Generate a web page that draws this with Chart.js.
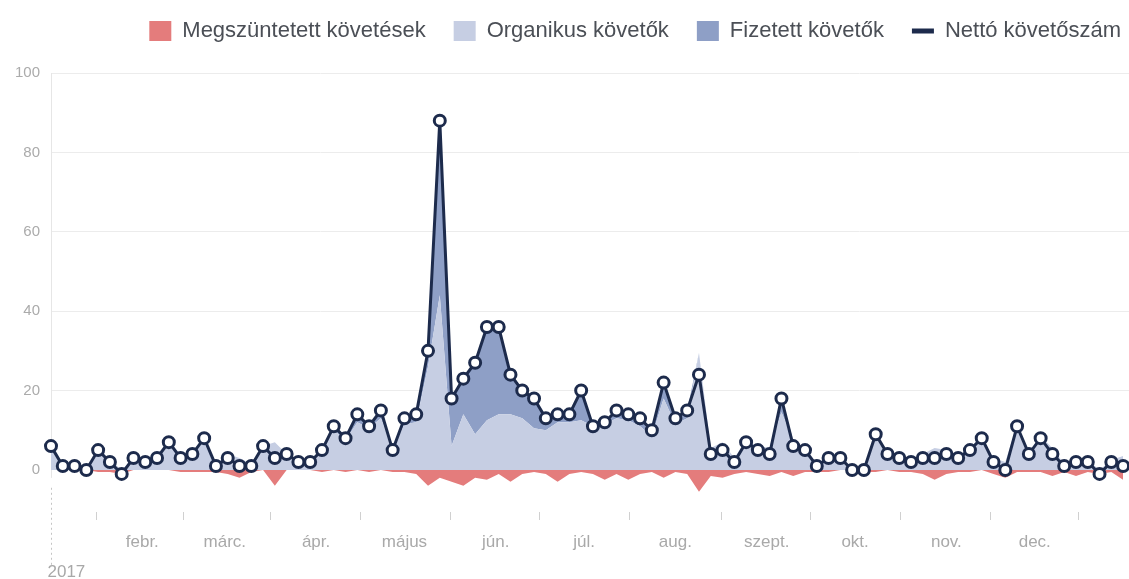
<!DOCTYPE html>
<html>
<head>
<meta charset="utf-8">
<title>Nettó követőszám</title>
<script src="https://cdn.jsdelivr.net/npm/chart.js@4"></script>
<style>
  html, body { margin: 0; padding: 0; background: #fff; }
  #wrap { width: 1129px; height: 579px; }
</style>
</head>
<body>
<div id="wrap"><canvas id="followersChart"></canvas></div>
<script>
// day of year (2017) of every data point
const days = [0, 4, 8, 12, 16, 20, 24, 28, 32, 36, 40, 44, 48, 52, 56, 60, 64, 68, 72, 76,
    80, 84, 88, 92, 96, 100, 104, 108, 112, 116, 120, 124, 128, 132, 136, 140, 144, 148, 152, 156,
    160, 164, 168, 172, 176, 180, 184, 188, 192, 196, 200, 204, 208, 212, 216, 220, 224, 228, 232, 236,
    240, 244, 248, 252, 256, 260, 264, 268, 272, 276, 280, 284, 288, 292, 296, 300, 304, 308, 312, 316,
    320, 324, 328, 332, 336, 340, 344, 348, 352, 356, 360, 364];

const netFollowers = [6, 1, 1, 0, 5, 2, -1, 3, 2, 3,
    7, 3, 4, 8, 1, 3, 1, 1, 6, 3,
    4, 2, 2, 5, 11, 8, 14, 11, 15, 5,
    13, 14, 30, 88, 18, 23, 27, 36, 36, 24,
    20, 18, 13, 14, 14, 20, 11, 12, 15, 14,
    13, 10, 22, 13, 15, 24, 4, 5, 2, 7,
    5, 4, 18, 6, 5, 1, 3, 3, 0, 0,
    9, 4, 3, 2, 3, 3, 4, 3, 5, 8,
    2, 0, 11, 4, 8, 4, 1, 2, 2, -1,
    2, 1];

const organicFollowers = [6, 1, 1, 0, 5.5, 2.5, 0, 3, 2, 3,
    7, 3.5, 4.5, 8.5, 1.5, 4, 3, 1.5, 6, 7,
    4, 2, 2, 5.5, 10, 7.5, 12, 10.5, 13, 5.5,
    11.5, 12, 26, 44, 6, 14, 9, 12.5, 14, 14,
    13, 10.5, 10, 12, 12, 12.5, 11, 11.5, 13, 12.5,
    11, 8.5, 18, 11.5, 13, 29.5, 5.5, 7, 3, 7.5,
    6, 5.5, 14.5, 7.5, 5.5, 1.5, 3.5, 3, 0, 0.5,
    9.5, 4, 3.5, 2.5, 4, 5.5, 5, 3.5, 5.5, 8,
    3, 2, 11.5, 4.5, 8.5, 5.5, 1.5, 3.5, 2.5, 0,
    2.5, 3.5];

const paidFollowers = [0, 0, 0, 0, 0, 0, 0, 0, 0, 0,
    0, 0, 0, 0, 0, 0, 0, 0, 0, 0,
    0, 0, 0, 0, 1, 0.5, 2, 0.5, 2, 0,
    1.5, 2, 4, 44, 12, 9, 18, 23.5, 22, 10,
    7, 7.5, 3, 2, 2, 7.5, 0, 0.5, 2, 1.5,
    2, 1.5, 4, 1.5, 2, 0, 0, 0, 0, 0,
    0, 0, 3.5, 0, 0, 0, 0, 0, 0, 0,
    0, 0, 0, 0, 0, 0, 0, 0, 0, 0,
    0, 0, 0, 0, 0, 0, 0, 0, 0, 0,
    0, 0];

const unfollows = [0, 0, 0, 0, -0.5, -0.5, -1, 0, 0, 0,
    0, -0.5, -0.5, -0.5, -0.5, -1, -2, -0.5, 0, -4,
    0, 0, 0, -0.5, 0, -0.5, 0, -0.5, 0, -0.5,
    -0.5, -1, -4, -2, -3, -4, -2, -2.5, -1, -3,
    -1, -0.5, -1, -3, -1, -0.5, -1, -2.5, -1, -2.5,
    -1, -0.5, -2, -0.5, -1, -5.5, -1.5, -2, -1, -0.5,
    -1, -1.5, -0.5, -1.5, -0.5, -0.5, -0.5, 0, 0, -0.5,
    -0.5, 0, -0.5, -0.5, -1, -2.5, -1, -0.5, -0.5, 0,
    -1, -2, -0.5, -0.5, -0.5, -1.5, -0.5, -1.5, -0.5, -1,
    -0.5, -2.5];

const monthStarts = [0, 31, 59, 90, 120, 151, 181, 212, 243, 273, 304, 334];
const monthLabels = ['', 'febr.', 'márc.', 'ápr.', 'május', 'jún.', 'júl.', 'aug.', 'szept.', 'okt.', 'nov.', 'dec.'];
const yearLabel = '2017';
const yTicks = [0, 20, 40, 60, 80, 100];

const FONT = "'Liberation Sans', Arial, sans-serif";
const NAVY = '#1d2b4c';

Chart.defaults.font.family = FONT;

const toPoints = values => values.map((v, i) => ({ x: days[i], y: v }));

// legend sits a bit higher and further right than chart.js would put it
const legendSpacing = {
    id: 'legendSpacing',
    beforeInit(chart) {
        const fit = chart.legend.fit;
        chart.legend.fit = function () {
            fit.call(this);
            this.height = 73;
        };
    },
    afterLayout(chart) {
        chart.legend.top -= 8;
        chart.legend.left += 20;
        chart.legend.right += 20;
    }
};

// faint y axis line + dotted year marker under the first day
const yearMarker = {
    id: 'yearMarker',
    beforeDatasetsDraw(chart) {
        const { ctx, chartArea, scales } = chart;
        const x = Math.round(scales.x.getPixelForValue(monthStarts[0])) + 0.5;
        ctx.save();
        ctx.strokeStyle = '#e6e6e6';
        ctx.lineWidth = 1;
        ctx.beginPath();
        ctx.moveTo(x, chartArea.top);
        ctx.lineTo(x, scales.y.getPixelForValue(-2));
        ctx.stroke();
        ctx.setLineDash([2, 3]);
        ctx.strokeStyle = '#c4c4c4';
        ctx.beginPath();
        ctx.moveTo(x, scales.y.getPixelForValue(-4.5));
        ctx.lineTo(x, chart.height - 12);
        ctx.stroke();
        ctx.fillStyle = '#a8a8a8';
        ctx.font = '17px ' + FONT;
        ctx.textAlign = 'left';
        ctx.textBaseline = 'alphabetic';
        ctx.fillText(yearLabel, x - 4, chart.height - 2);
        ctx.restore();
    }
};

new Chart(document.getElementById('followersChart'), {
    type: 'line',
    data: {
        datasets: [{
            label: 'Megszüntetett követések',
            data: toPoints(unfollows),
            stack: 'unf',
            order: 1,
            fill: 'origin',
            backgroundColor: '#e47c7c',
            borderWidth: 0,
            pointRadius: 0,
            pointStyle: 'rect',
            tension: 0
        }, {
            label: 'Organikus követők',
            data: toPoints(organicFollowers),
            stack: 'gross',
            order: 2,
            fill: 'origin',
            backgroundColor: '#c6cee3',
            borderWidth: 0,
            pointRadius: 0,
            pointStyle: 'rect',
            tension: 0
        }, {
            label: 'Fizetett követők',
            data: toPoints(paidFollowers),
            stack: 'gross',
            order: 2,
            fill: '-1',
            backgroundColor: '#8e9fc6',
            borderWidth: 0,
            pointRadius: 0,
            pointStyle: 'rect',
            tension: 0
        }, {
            label: 'Nettó követőszám',
            data: toPoints(netFollowers),
            stack: 'net',
            order: 0,
            fill: false,
            borderColor: NAVY,
            backgroundColor: NAVY,
            borderWidth: 3,
            pointRadius: 5.5,
            pointBorderWidth: 3,
            pointBackgroundColor: '#fff',
            pointBorderColor: NAVY,
            clip: false,
            tension: 0
        }]
    },
    options: {
        responsive: true,
        maintainAspectRatio: false,
        animation: false,
        layout: { padding: 0, autoPadding: false },
        scales: {
            x: {
                type: 'linear',
                min: 0,
                max: 366,
                afterBuildTicks: scale => { scale.ticks = monthStarts.map(v => ({ value: v })); },
                afterFit: scale => { scale.height = 67; },
                grid: {
                    offset: true,
                    drawOnChartArea: false,
                    drawTicks: true,
                    tickLength: 8,
                    color: '#d0d0d0'
                },
                border: { display: false },
                ticks: {
                    autoSkip: false,
                    maxRotation: 0,
                    padding: 12,
                    color: '#a9a9a9',
                    font: { size: 17 },
                    callback: (value, index) => monthLabels[index]
                }
            },
            y: {
                stacked: true,
                min: -10.6,
                max: 100,
                afterBuildTicks: scale => { scale.ticks = yTicks.map(v => ({ value: v })); },
                afterFit: scale => { scale.width = 51; },
                grid: { color: '#ececec', drawTicks: false },
                border: { display: false },
                ticks: {
                    padding: 11,
                    color: '#ababab',
                    font: { size: 15 }
                }
            }
        },
        plugins: {
            legend: {
                position: 'top',
                align: 'end',
                labels: {
                    usePointStyle: true,
                    pointStyleWidth: 22,
                    boxHeight: 20,
                    padding: 28,
                    color: '#4b4f56',
                    font: { size: 22 },
                    sort: (a, b) => a.datasetIndex - b.datasetIndex,
                    generateLabels(chart) {
                        const items = Chart.defaults.plugins.legend.labels.generateLabels(chart);
                        items.forEach(item => {
                            if (item.datasetIndex === 3) {
                                item.pointStyle = 'line';
                                item.lineWidth = 5;
                                item.strokeStyle = NAVY;
                            }
                        });
                        return items;
                    }
                }
            },
            tooltip: { enabled: false }
        }
    },
    plugins: [legendSpacing, yearMarker]
});
</script>
</body>
</html>
